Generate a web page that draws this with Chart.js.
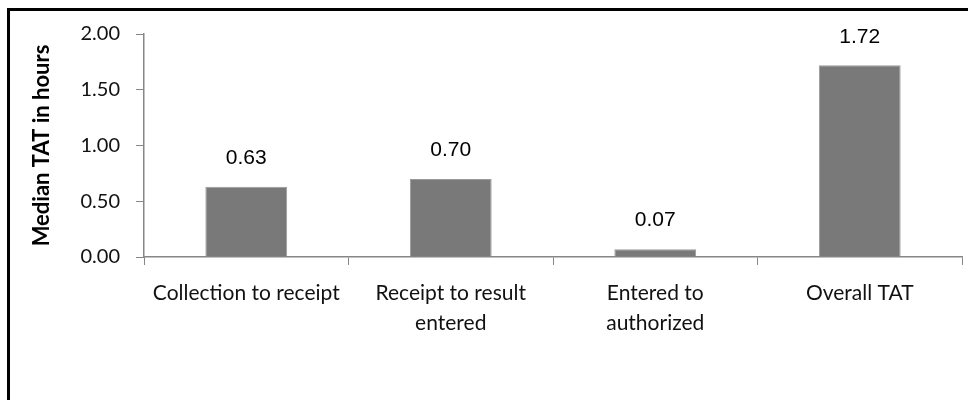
<!DOCTYPE html>
<html>
<head>
<meta charset="utf-8">
<script src="https://cdn.jsdelivr.net/npm/chart.js@4"></script>
<style>
  html, body { margin: 0; padding: 0; background: #fff; overflow: hidden; }
  #frame { position: absolute; left: 7px; top: 8px; width: 1000px; height: 500px;
           border-left: 3px solid #000; border-top: 3px solid #000; }
  #wrap { position: absolute; left: 0; top: 0; width: 968px; height: 400px; }
</style>
</head>
<body>
<div id="frame"></div>
<div id="wrap"><canvas id="tatChart" width="968" height="400"></canvas></div>
<script>
const categories = [
  "Collection to receipt",
  ["Receipt to result", "entered"],
  ["Entered to", "authorized"],
  "Overall TAT"
];
const medianTat = [0.63, 0.70, 0.07, 1.72];
const yTicks = [0, 0.5, 1, 1.5, 2];

const axisGray = "#868686";
const padLeft = 29;

// value labels above each bar
const valueLabels = {
  id: "valueLabels",
  afterDatasetsDraw(chart) {
    const ctx = chart.ctx;
    const meta = chart.getDatasetMeta(0);
    ctx.save();
    ctx.font = "21px 'Liberation Sans', Arial, sans-serif";
    ctx.fillStyle = "#000";
    ctx.textAlign = "center";
    ctx.textBaseline = "bottom";
    meta.data.forEach((bar, i) => {
      ctx.fillText(medianTat[i].toFixed(2), bar.x, bar.y - 18);
    });
    ctx.restore();
  }
};

new Chart(document.getElementById("tatChart"), {
  type: "bar",
  data: {
    labels: categories,
    datasets: [{
      data: medianTat,
      backgroundColor: "#797979",
      borderColor: "#9a9a9a",
      borderWidth: 1,
      categoryPercentage: 1,
      barPercentage: 0.4
    }]
  },
  options: {
    responsive: false,
    animation: false,
    layout: { padding: { left: padLeft, right: 6, top: 34, bottom: 0 } },
    plugins: { legend: { display: false }, tooltip: { enabled: false } },
    scales: {
      x: {
        grid: { offset: true, drawOnChartArea: false, tickLength: 8, color: axisGray },
        border: { color: axisGray, width: 1.5 },
        ticks: {
          color: "#111",
          padding: 13,
          maxRotation: 0,
          autoSkip: false,
          font: { family: "Lato", size: 21, lineHeight: 1.43 }
        },
        afterFit(scale) { scale.height = 400 - 257; }
      },
      y: {
        min: 0,
        max: 2,
        afterBuildTicks(scale) { scale.ticks = yTicks.map(v => ({ value: v })); },
        grid: { drawOnChartArea: false, tickLength: 8, color: axisGray },
        border: { color: axisGray, width: 1.5 },
        ticks: {
          color: "#111",
          padding: 16,
          font: { family: "Lato", size: 20 },
          callback: v => Number(v).toFixed(2)
        },
        title: {
          display: true,
          text: "Median TAT in hours",
          color: "#000",
          padding: { top: 0, bottom: 0 },
          font: { family: "Lato", size: 22, weight: "bold" }
        },
        afterFit(scale) { scale.width = 144 - padLeft; }
      }
    }
  },
  plugins: [valueLabels]
});
</script>
</body>
</html>
